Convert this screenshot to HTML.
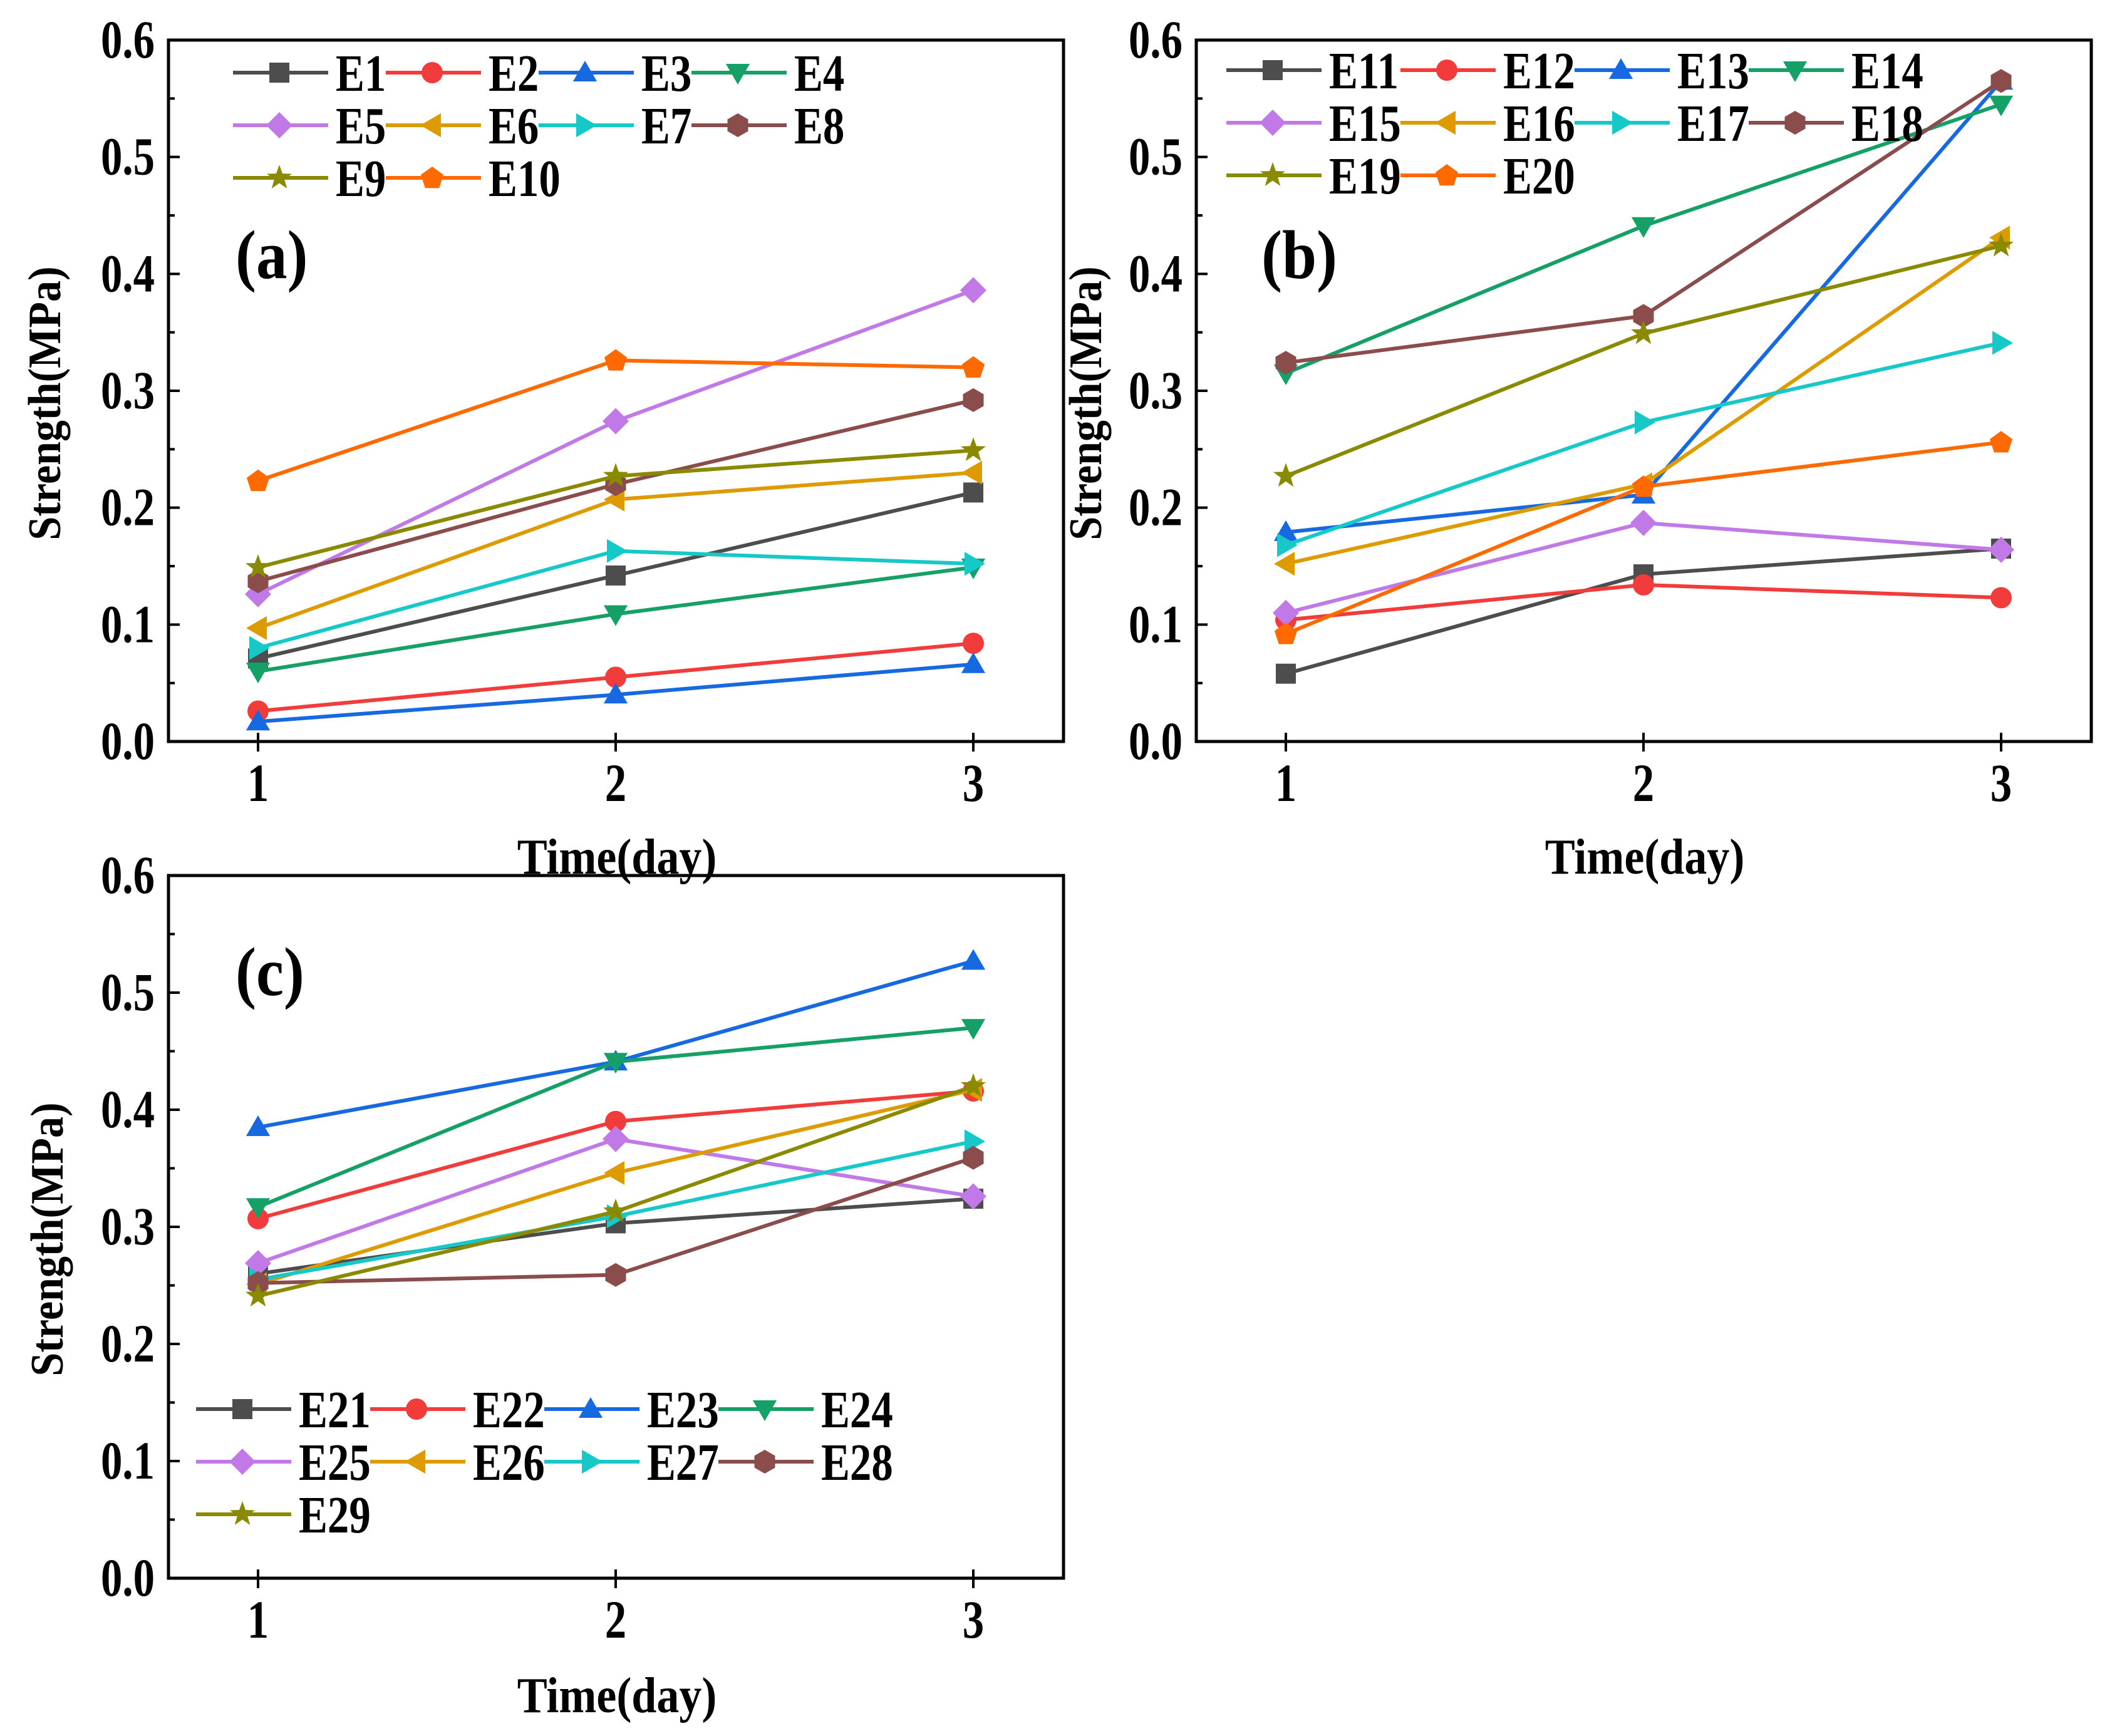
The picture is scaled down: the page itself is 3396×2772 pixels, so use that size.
<!DOCTYPE html>
<html><head><meta charset="utf-8"><style>
html,body{margin:0;padding:0;background:#fff;}
svg{display:block;font-family:"Liberation Serif",serif;font-weight:bold;}
</style></head><body>
<svg id="fig" width="3396" height="2772" viewBox="0 0 3396 2772" xmlns="http://www.w3.org/2000/svg"></svg>
<script>
const xCats=[1,2,3];
const yTicks=[0,0.1,0.2,0.3,0.4,0.5,0.6];
const yTickLabels=["0.0","0.1","0.2","0.3","0.4","0.5","0.6"];
const namesA=["E1","E2","E3","E4","E5","E6","E7","E8","E9","E10"];
const namesB=["E11","E12","E13","E14","E15","E16","E17","E18","E19","E20"];
const namesC=["E21","E22","E23","E24","E25","E26","E27","E28","E29"];
const valsA=[[0.071,0.142,0.213],[0.026,0.055,0.084],[0.017,0.040,0.066],[0.060,0.109,0.149],[0.126,0.274,0.386],[0.097,0.207,0.230],[0.080,0.163,0.152],[0.137,0.220,0.292],[0.149,0.227,0.249],[0.223,0.326,0.320]];
const valsB=[[0.058,0.143,0.165],[0.104,0.134,0.123],[0.179,0.211,0.565],[0.315,0.441,0.545],[0.110,0.187,0.164],[0.152,0.220,0.431],[0.168,0.273,0.341],[0.324,0.364,0.565],[0.227,0.349,0.424],[0.092,0.218,0.256]];
const valsC=[[0.260,0.303,0.324],[0.307,0.390,0.416],[0.385,0.441,0.527],[0.317,0.441,0.470],[0.269,0.375,0.326],[0.251,0.346,0.417],[0.255,0.309,0.373],[0.252,0.259,0.359],[0.241,0.313,0.420]];
const colors=["#4d4d4d","#f23c3c","#1669e0","#14a066","#c079e6","#dd9b00","#17c8c8","#8b4c4c","#8a8a00","#ff6a00"];
const shapes=["square","circle","up","down","diamond","left","right","hex","star","pent"];

const NS="http://www.w3.org/2000/svg";
const svg=document.getElementById('fig');
function mk(tag,attrs,parent){const e=document.createElementNS(NS,tag);for(const k in attrs)e.setAttribute(k,attrs[k]);(parent||svg).appendChild(e);return e;}
function ctext(parent,x,y,str,size,sx,anchor,rot){
  const tr='translate('+x+' '+y+')'+(rot?' rotate('+rot+')':'')+' scale('+sx+' 1)';
  const t=mk('text',{x:0,y:0,'font-size':size,'text-anchor':anchor||'start',transform:tr},parent);
  t.textContent=str;return t;
}
function poly(cx,cy,r,n,rot){let p=[];for(let i=0;i<n;i++){const a=rot+i*2*Math.PI/n;p.push((cx+r*Math.cos(a)).toFixed(1)+","+(cy+r*Math.sin(a)).toFixed(1));}return p.join(" ");}
function marker(g,shape,cx,cy,col){
  const r=19;let e;
  if(shape==="square")e=mk('rect',{x:cx-16,y:cy-16,width:32,height:32,fill:col},g);
  else if(shape==="circle")e=mk('circle',{cx:cx,cy:cy,r:17,fill:col},g);
  else if(shape==="up")e=mk('polygon',{points:poly(cx,cy+3,r+3,3,-Math.PI/2),fill:col},g);
  else if(shape==="down")e=mk('polygon',{points:poly(cx,cy-3,r+3,3,Math.PI/2),fill:col},g);
  else if(shape==="left")e=mk('polygon',{points:poly(cx+3,cy,r+3,3,Math.PI),fill:col},g);
  else if(shape==="right")e=mk('polygon',{points:poly(cx-3,cy,r+3,3,0),fill:col},g);
  else if(shape==="diamond")e=mk('polygon',{points:poly(cx,cy,r+2,4,0),fill:col},g);
  else if(shape==="hex")e=mk('polygon',{points:poly(cx,cy,r,6,-Math.PI/2),fill:col},g);
  else if(shape==="pent")e=mk('polygon',{points:poly(cx,cy+1,r,5,-Math.PI/2),fill:col},g);
  else if(shape==="star"){let p=[];for(let i=0;i<10;i++){const a=-Math.PI/2+i*Math.PI/5;const rr=i%2?8.5:r+2;p.push((cx+rr*Math.cos(a)).toFixed(1)+","+(cy+rr*Math.sin(a)).toFixed(1));}e=mk('polygon',{points:p.join(" "),fill:col},g);}
  
  
}
function panel(cfg){
  const {L,R,T,B,xt,names,vals,label,lx,lby,legX,legY,legDX,legDY,titleX,titleY,ylabX,id}=cfg;
  const g=mk('g',{});
  
  
  const ys=v=>B-(v/0.6)*(B-T);
  const xs=c=>xt[0]+(c-1)*(xt[1]-xt[0]);
  vals.forEach((s,i)=>{
    const sg=mk('g',{},g);
    
    
    const pts=s.map((v,j)=>xs(xCats[j])+","+ys(v)).join(" ");
    const pl=mk('polyline',{points:pts,fill:'none',stroke:colors[i],'stroke-width':6,'stroke-linejoin':'round'},sg);
    
    
    s.forEach((v,j)=>marker(sg,shapes[i],xs(xCats[j]),ys(v),colors[i]));
  });
  const fr=mk('rect',{x:L,y:T,width:R-L,height:B-T,fill:'none',stroke:'#000','stroke-width':5},g);
  
  
  yTicks.forEach((v,i)=>{
    const y=ys(v);
    mk('line',{x1:L,x2:L+18,y1:y,y2:y,stroke:'#000','stroke-width':4},g);
    if(i<yTicks.length-1){const ym=ys(v+0.05);mk('line',{x1:L,x2:L+10,y1:ym,y2:ym,stroke:'#000','stroke-width':4},g);}
    const t=ctext(g,L-22,y+28,yTickLabels[i],86,0.8,'end');
    
    
  });
  xCats.forEach(c=>{
    const x=xs(c);
    mk('line',{x1:x,x2:x,y1:B-14,y2:B+16,stroke:'#000','stroke-width':4},g);
    const t=ctext(g,x,B+95,String(c),86,0.8,'middle');
    
    
  });
  const xt1=ctext(g,titleX,titleY,'Time(day)',80,0.9,'middle');
  
  
  const cy=(T+B)/2+20;
  const yt=ctext(g,ylabX,cy,'Strength(MPa)',74,0.92,'middle',-90);
  
  
  const pl=ctext(g,lx,lby,label,110,0.9,'start');
  
  
  const lg=mk('g',{},g);
  
  
  names.forEach((n,i)=>{
    const col=i%4,row=Math.floor(i/4);
    const x0=legX+col*legDX,y0=legY+row*legDY;
    const eg=mk('g',{},lg);
    
    
    mk('line',{x1:x0,x2:x0+152,y1:y0,y2:y0,stroke:colors[i],'stroke-width':6},eg);
    marker(eg,shapes[i],x0+74,y0,colors[i]);
    ctext(eg,x0+164,y0+29,n,84,0.82,'start');
  });
}
panel({id:'a',L:269,R:1698,T:64,B:1184,xt:[412,983],names:namesA,vals:valsA,label:'(a)',lx:376,lby:444,legX:372,legY:116,legDX:244,legDY:84,titleX:985,titleY:1395,ylabX:96});
panel({id:'b',L:1910,R:3339,T:64,B:1184,xt:[2053,2624],names:namesB,vals:valsB,label:'(b)',lx:2014,lby:444,legX:1958,legY:112,legDX:278,legDY:84,titleX:2626,titleY:1395,ylabX:1758});
panel({id:'c',L:269,R:1698,T:1398,B:2520,xt:[412,983],names:namesC,vals:valsC,label:'(c)',lx:376,lby:1589,legX:313,legY:2250,legDX:278,legDY:84,titleX:985,titleY:2734,ylabX:100});
</script>
</body></html>
